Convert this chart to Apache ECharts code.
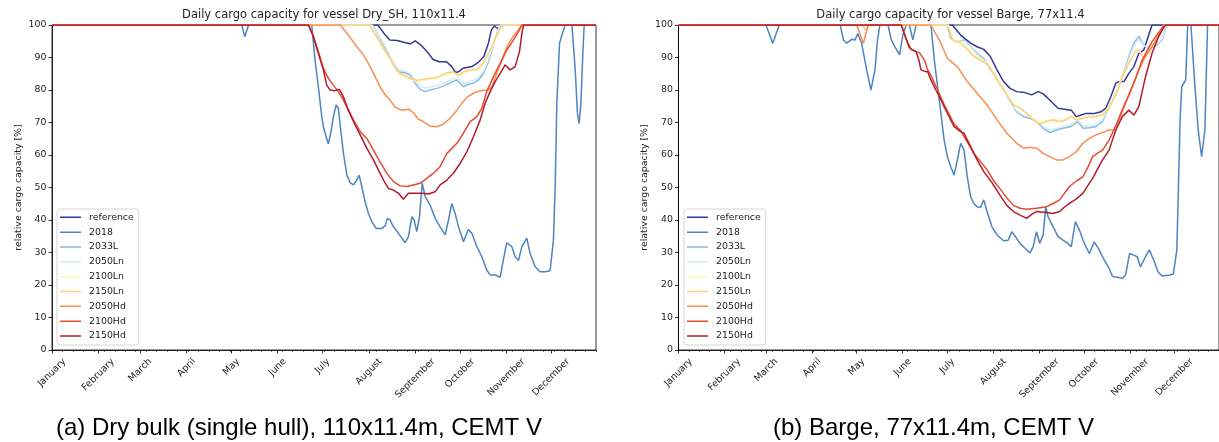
<!DOCTYPE html>
<html><head><meta charset="utf-8">
<script src="https://cdn.jsdelivr.net/npm/echarts@6/dist/echarts.min.js"></script>
<style>html,body{margin:0;padding:0;background:#fff}#c{width:1219px;height:442px}</style>
</head><body><div id="c"></div>
<script>
// ---------------- data ----------------
const monthNames = ['January','February','March','April','May','June','July','August','September','October','November','December'];
const monthStartDays = [0,31,59,90,120,151,181,212,243,273,304,334];
const seriesNames = ['reference','2018','2033L','2050Ln','2100Ln','2150Ln','2050Hd','2100Hd','2150Hd'];
const panelTitles = ['Daily cargo capacity for vessel Dry_SH, 110x11.4','Daily cargo capacity for vessel Barge, 77x11.4'];
const captions = ['(a) Dry bulk (single hull), 110x11.4m, CEMT V','(b) Barge, 77x11.4m, CEMT V'];
const yAxisTitle = 'relative cargo capacity [%]';

// Panel A: Dry_SH  [dayOfYear, capacity %]
const A_reference = [[0,100],[218,100],[223,96.9],[226,95.4],[231,95.2],[236,94.6],[240,94.2],[243,95.1],[247,93.8],[251,91.8],[255,89.4],[259,88.7],[264,88.7],[267.5,87.2],[270,85.4],[272,85.6],[275,86.7],[281,87.2],[285,88.4],[289,90.3],[292,94.4],[294,98.5],[296,99.7],[298,99],[300,99],[302,100],[364,100]];
const A_2018 = [[0,100],[127,100],[129,96.4],[131.5,100],[173.8,100],[176,89.2],[178.2,81],[180.5,71.8],[181.6,68.7],[183.4,65.6],[184.9,63.4],[186.5,66.7],[188.3,71.8],[190.1,75.4],[191.6,74.4],[193.2,67.7],[195,60.5],[197.3,53.8],[199.5,51.5],[201.7,50.8],[204,52.3],[205.5,53.8],[207.3,50.3],[209.5,45.6],[211.7,42.1],[214,39.5],[216.9,37.4],[220.7,37.4],[222.9,38.2],[224.4,40.5],[226.2,40],[228.5,37.9],[231.8,35.9],[236.3,33],[238.5,34.9],[240.8,41],[242.3,40],[244.1,36.4],[245.9,41],[247.7,51.3],[249.7,47.2],[253,44.6],[256.4,40.5],[259.7,37.9],[263.1,35.4],[265.3,40],[267.5,45.1],[269.7,42.1],[272,37.9],[275.3,33.3],[278.6,37.1],[280.9,35.9],[284.3,31.8],[287.6,28.7],[290.9,24.6],[293.2,23.1],[296.5,23.1],[299.9,22.4],[302,27.7],[304.3,33],[307.7,31.8],[309.9,28.7],[312.1,27.5],[314.4,31.8],[317.7,34.4],[319.9,29.7],[323.3,25.6],[326.6,24.1],[330,24.1],[333.3,24.4],[335.5,33.8],[336.7,50.3],[337.8,75.9],[339.6,94.4],[341.2,96.9],[343.4,100],[347.9,100],[350.1,86.2],[351.6,72.8],[352.7,69.7],[353.9,75.9],[355.2,91.3],[356.1,100],[364,100]];
const A_2033L = [[0,100],[214.6,100],[219.5,95.9],[224,91.8],[228.5,87.7],[231.8,85.6],[236.3,85.3],[239.6,84.6],[243,82.1],[246.3,80.2],[249.7,79.5],[253,80],[257.5,80.5],[261.9,81.2],[266.4,82.2],[270.9,83.1],[273.1,82.1],[275.3,81],[278.6,81.8],[282,82.1],[285.4,83.1],[288.7,85.1],[292,88.7],[295.4,93.8],[297.6,97.4],[299.9,100],[364,100]];
const A_2050Ln = [[0,100],[214,100],[219,96.5],[224,92.5],[228.5,88.5],[232,86.3],[236,85.8],[240,85],[243,83],[246.5,81.2],[250,80.6],[253,81],[258,81.4],[262,82],[266.5,83],[271,83.8],[273,83],[275.5,82],[279,82.6],[282,83],[285.5,84],[289,86],[292,89.4],[295.5,94.3],[298,97.8],[300,100],[364,100]];
const A_2100Ln = [[0,100],[213,100],[217.5,96],[222,92.3],[226.5,89.2],[230,86.3],[233,84.8],[236.5,84],[240,83.3],[244,82.6],[248.5,83],[253,83.3],[257.5,83.6],[261,84.3],[264.5,85],[268.5,85.3],[272,84.3],[275.5,85.3],[280,85.9],[284.5,86.1],[288,87.5],[291,90],[294.5,93],[298,96.7],[301.5,100],[364,100]];
const A_2150Ln = [[0,100],[212.4,100],[217.3,96.4],[221.8,92.8],[226.2,89.7],[229.6,86.7],[232.9,85.1],[236.3,84.3],[239.6,83.6],[244.1,82.9],[248.5,83.3],[253,83.6],[257.5,83.9],[260.8,84.6],[264.2,85.3],[268.6,85.6],[272,84.6],[275.3,85.6],[279.8,86.2],[284.3,86.4],[287.6,87.7],[290.9,90.3],[294.3,93.3],[297.6,96.9],[301,100],[364,100]];
const A_2050Hd = [[0,100],[192.8,100],[198.3,96.9],[204,93.3],[208.4,90.8],[212.9,87.2],[216.2,84.1],[219.5,81],[222.9,78.5],[226.2,76.9],[229.6,74.7],[234.1,73.8],[238.5,74.1],[241.8,73],[245.2,71],[248.5,70.3],[253,68.9],[257.5,68.7],[261.9,69.5],[266.4,71.3],[270.9,73.8],[274.2,75.9],[277.6,77.7],[282,79],[286.5,79.8],[292,80],[294.3,81],[297.6,85.1],[301,89.2],[304.3,93.3],[307.7,95.9],[311,97.9],[314.4,100],[364,100]];
const A_2100Hd = [[0,100],[171.6,100],[174.9,96.6],[178.2,91.8],[181.6,86.7],[184.9,83.6],[188.3,81.5],[191.6,79.5],[195,76.9],[198.3,73.8],[201.7,70.8],[206.2,67.2],[210.6,65.1],[215.1,61.5],[219.5,57.9],[224,54.4],[228.5,51.8],[232.9,50.5],[237.4,50.3],[241.8,50.8],[246.3,51.3],[250.8,52.8],[255.2,54.4],[259.7,56.4],[264.2,60.5],[266.4,61.5],[270.9,63.6],[275.3,66.7],[279.8,70.3],[284.3,71.8],[287.6,74.4],[290.9,79.5],[295.4,84.1],[299.9,88.2],[304.3,92.3],[308.8,95.4],[312.1,97.9],[314.4,100],[364,100]];
const A_2150Hd = [[0,100],[171.6,100],[174.9,96.4],[178.2,91.3],[181.6,86.2],[183.8,81.5],[186.1,80],[189.4,79.8],[192.3,80.2],[195,77.9],[198.3,73.8],[201.7,70.3],[206.2,66.2],[210.6,62.1],[215.1,58.5],[218.4,55.4],[221.8,52.3],[225.1,49.7],[228.5,49.2],[231.8,48.2],[235.1,46.4],[238.5,48.2],[243,48.2],[247.4,48.2],[251.9,48],[256.4,48.7],[259.7,50.8],[264.2,52.3],[268.6,54.4],[273.1,57.4],[277.6,61],[282,65.6],[286.5,70.8],[289.8,75.9],[293.2,79.5],[296.5,82.6],[299.9,85.1],[303.2,87.7],[306.6,86.2],[309.9,87.2],[312.8,91.8],[314.4,97.4],[315.5,100],[364,100]];

// Panel B: Barge
const B_reference = [[0,100],[184.4,100],[190,96.9],[196.7,94.4],[201.1,93.3],[205.6,92.5],[210,90.3],[214.5,86.2],[218.9,82.6],[223.3,80.5],[227.8,79.5],[233.3,79.2],[237.8,78.5],[242.3,79.5],[245.6,78.8],[250,76.9],[255.6,74.4],[260,74.1],[264.5,73.8],[267.8,71.8],[271.1,72.3],[274.5,72.8],[280,72.8],[284.5,73.3],[287.8,74.4],[291.1,77.9],[294.5,82.1],[296.7,82.6],[300,82.6],[303.3,85.1],[306.7,87.2],[310,91.3],[313.3,92.3],[315.6,95.4],[318.9,100],[364,100]];
const B_2018 = [[0,100],[58.9,100],[63.5,94.4],[67.8,100],[108.9,100],[111.1,95.4],[113.3,94.4],[116.7,95.6],[118.9,95.4],[120.7,97.4],[123.3,94.4],[126.7,86.2],[129.6,80],[132.3,86.2],[134,95.4],[135.6,100],[141.1,100],[143.3,95.4],[145.1,93.8],[146.4,94.4],[148.9,90.8],[151.1,96.9],[153.3,100],[155.5,100],[157.8,95.4],[160,100],[170,100],[172.3,89.2],[174.5,81],[176.7,72.8],[178.9,64.6],[181.1,59.5],[183.3,56.4],[185.6,53.8],[187.8,58.5],[190,63.6],[192.3,61.5],[194.5,53.3],[196.7,47.2],[198.9,45.1],[201.1,44.1],[203.3,43.8],[205.6,46.2],[207.8,42.6],[211.1,37.9],[214.5,35.4],[218.9,33.6],[222,33.8],[224.5,36.4],[226.7,35],[230,32.8],[233.3,31.3],[236.7,29.9],[238.9,31.8],[241.1,36.4],[243.3,32.8],[245.6,35.5],[247.3,44.1],[248.9,41],[252.3,37.9],[255.6,34.9],[258.9,33.8],[262.2,32.8],[264.5,31.8],[267.3,39.5],[270,36.9],[273.3,32.8],[276.7,29.7],[280,33.3],[283.3,30.8],[286.7,27.7],[290,25.1],[292.3,22.6],[295.6,22.4],[298.9,22.1],[301.1,23.1],[303.8,29.7],[306.7,29.2],[308.9,28.7],[311.1,25.6],[314.5,28.7],[317.1,30.8],[320,27.7],[322.9,24.1],[325.6,22.8],[331.1,23.1],[333.3,23.4],[335.6,30.8],[336.7,50.3],[337.8,70.8],[338.9,81],[341.6,83.1],[342.9,100],[345.1,100],[347.8,81],[350,67.7],[352.3,59.5],[354.5,67.7],[356.3,100],[364,100]];
const B_2033L = [[0,100],[181.1,100],[183.3,95.9],[187.8,94.9],[192.3,95.4],[196.7,93.3],[201.1,91.3],[205.6,89.7],[210,86.2],[214.5,83.6],[218.9,80.5],[223.3,76.4],[227.8,73.3],[232.3,71.8],[236.7,71.3],[241.1,70.3],[245.6,68.2],[250,66.9],[254.5,67.7],[258.9,68.2],[264.5,68.8],[268.9,70.3],[272.3,68.2],[276.7,68.4],[281.1,68.7],[285.6,70.3],[290,74.9],[294.5,79],[298.9,84.1],[303.3,90.3],[306.7,94.4],[310,96.6],[313.3,93.8],[316.7,92.8],[320,93.2],[322.5,94],[325.6,95.4],[327.8,98.5],[328.9,100],[364,100]];
const B_2050Ln = [[0,100],[182,100],[184,96],[188,95],[192.5,95],[197,93],[201,91],[206,89],[210.5,85.8],[215,83],[219,80],[223.5,76.2],[228,73.5],[232.5,72.2],[237,71.6],[241,70.8],[245.5,68.8],[250,67.6],[254.5,68.2],[259,68.8],[264.5,69.4],[269,70.8],[272.5,69],[277,69],[281,69.3],[285.5,70.8],[290,75],[294.5,79],[299,84],[303.5,89.8],[307,93.8],[310,95.6],[313.5,93.6],[317,93],[320,93.5],[323,94.5],[326,96],[328.5,100],[364,100]];
const B_2100Ln = [[0,100],[181.5,100],[184.5,95.6],[190,94.8],[194.5,93],[199,90.8],[203.5,89.6],[208,88.2],[212.5,85.4],[217,81.8],[221,78.8],[225.5,75.8],[230,74.6],[234.5,73],[239,71.2],[243.5,70],[248,70.6],[252,71],[257,70.6],[261,71],[264.5,72],[268,71.2],[272,71.5],[277,72],[281,72],[285.5,72.6],[290,74.8],[294.5,79],[299,84.5],[303.5,88.6],[308,92],[310,92.4],[313,90.2],[316,91.5],[319,93.5],[323.5,96.6],[327,100],[364,100]];
const B_2150Ln = [[0,100],[124,100],[126,98.5],[128,100],[181,100],[184.4,95.4],[190,94.4],[194.5,92.5],[198.9,90.3],[203.3,89.2],[207.8,88],[212.3,85.1],[216.7,81.5],[221.1,78.5],[225.6,75.4],[230,74.4],[234.5,72.8],[238.9,70.8],[243.3,69.5],[247.8,70.3],[252.2,70.8],[256.7,70.3],[261.1,70.8],[264.5,71.8],[267.8,70.8],[272.2,71.3],[276.7,71.8],[281.1,71.8],[285.6,72.3],[290,74.4],[294.5,78.5],[298.9,84.1],[303.3,88.2],[308,92],[310,92.3],[313,89.8],[316,91],[318.9,93.3],[323.3,96.4],[326.7,100],[364,100]];
const B_2050Hd = [[0,100],[120,100],[124.5,94.4],[127.8,100],[170,100],[176.7,94.4],[181.1,89.7],[187.8,87.2],[194.5,82.6],[201.1,79],[207.8,75.4],[214.5,70.8],[221.1,66.7],[227.8,63.6],[232.3,62.1],[236.7,62.4],[241.1,62.1],[245.6,60.5],[250,59.5],[254.5,58.5],[258.9,58.5],[263.3,59.5],[267.8,61],[272.3,63.6],[276.7,65.1],[281.1,66.2],[285.6,66.9],[290,67.7],[293.3,67.7],[296.7,70.8],[301.1,75.9],[305.6,81],[310,86.2],[314.5,90.3],[318.9,93.3],[323.3,96.9],[326.7,100],[364,100]];
const B_2100Hd = [[0,100],[150,100],[154.5,94.4],[156.7,92.5],[160,91.8],[162.2,91.5],[165.6,89.2],[167.8,86.2],[170,84.5],[174.5,80],[178.9,75.5],[185.6,69.5],[190,67.5],[194.5,64],[198.9,60.5],[203.3,58],[207.8,55.5],[212.3,52],[216.7,49.5],[221.1,46.8],[225.6,44.5],[230,43.6],[234.5,43.3],[241.1,43.6],[247.8,44.1],[252,45],[256.7,46.2],[263.3,50.3],[268,52],[272.3,53.3],[276,56.5],[278.9,59.5],[282,60.5],[285.6,61.5],[290,64.6],[294.5,69],[298.9,74],[303.3,78.5],[307.8,83.5],[312.3,89.2],[318.9,94.9],[325.6,99],[327.8,100],[364,100]];
const B_2150Hd = [[0,100],[150,100],[153,96],[155.5,93],[157.8,92.3],[160,91.8],[162,89],[163.3,86.2],[165.6,85.8],[167.8,85.6],[170,83.1],[173.3,80],[176.7,77],[178.9,74.9],[185.6,68.7],[190,67.2],[192.3,66.7],[196.7,62.6],[201.1,58.5],[205.6,54.9],[211.1,51.5],[216.7,47.5],[221.1,44.5],[225.6,42.6],[230,41.5],[234.5,40.5],[238,41.8],[241.1,42.6],[247.8,42.3],[252,42],[256.7,42.6],[260,44],[263.3,45.1],[268,46.5],[272.3,48.2],[276,50.8],[278.9,52.8],[282,55.5],[285.6,58.5],[290,61.5],[294.5,67.7],[298.9,71.8],[303.3,73.8],[306.7,72.3],[310,74.9],[314.5,84.1],[318.9,91.3],[323.3,96.4],[327.8,100],[364,100]];

// ---------------- styling ----------------
const colors = ['#343896','#4d84c2','#85bcdc','#d3ebf4','#fbf8b6','#fdcf82','#fb8c4e','#e34b33','#b51a2c'];
const FONT = 'DejaVu Sans';
const TXT = '#222';
const TICK_FS = 9.4;
const LEGEND_ICON = 'path://M0,0L0.01,0L0,0.01ZM0,4.25L21,4.25L21,5.75L0,5.75ZM21,10L20.99,10L21,9.99Z';

const panels = [
  [A_reference,A_2018,A_2033L,A_2050Ln,A_2100Ln,A_2150Ln,A_2050Hd,A_2100Hd,A_2150Hd],
  [B_reference,B_2018,B_2033L,B_2050Ln,B_2100Ln,B_2150Ln,B_2050Hd,B_2100Hd,B_2150Hd]
];
const grids = [
  {left:52, top:25, width:544, height:325},
  {left:678.5, top:25, width:546, height:325}
];

const ctx = document.createElement('canvas').getContext('2d');
ctx.font = TICK_FS + 'px "' + FONT + '"';
const rich = {};
monthNames.forEach((m,i)=>{
  const w = ctx.measureText(m).width;
  const p = 0.5*w;
  rich['m'+i] = {fontSize:TICK_FS, fontFamily:FONT, color:TXT, padding:[p,p,0,0]};
});

const option = {
  animation:false,
  backgroundColor:'#fff',
  title:[],
  legend:[],
  grid:[],
  xAxis:[],
  yAxis:[],
  series:[]
};

grids.forEach((g,p)=>{
  option.grid.push(Object.assign({show:true, borderColor:'#000', borderWidth:0.8, backgroundColor:'transparent'}, g));
  option.title.push({text:panelTitles[p], left:g.left + 272, top:9, textAlign:'center', padding:0,
    textStyle:{fontSize:11.5, fontWeight:'normal', fontFamily:FONT, color:TXT}});
  option.title.push({text:captions[p], left:(p===0?56:773), top:416, padding:0,
    textStyle:{fontSize:24, fontWeight:'normal', fontFamily:'Liberation Sans', color:'#000'}});
  option.xAxis.push({
    type:'value', gridIndex:p, min:0, max:364, position:'bottom',
    axisLine:{show:true, lineStyle:{color:'#000', width:0.8}},
    axisTick:{show:true, customValues:monthStartDays, length:3.5, lineStyle:{color:'#000', width:0.8}},
    axisLabel:{show:true, customValues:monthStartDays, rotate:45, align:'center', verticalAlign:'middle', margin:10,
      fontSize:TICK_FS, fontFamily:FONT, color:TXT,
      formatter:(v)=>{ const i = monthStartDays.indexOf(Math.round(v)); return i<0 ? '' : '{m'+i+'|'+monthNames[i]+'}'; },
      rich:rich},
    splitLine:{show:false}
  });
  option.xAxis.push({
    type:'value', gridIndex:p, min:0, max:364, interval:7, position:'bottom',
    axisLine:{show:false},
    axisTick:{show:true, length:2, lineStyle:{color:'#000', width:0.6}},
    axisLabel:{show:false},
    splitLine:{show:false}
  });
  option.yAxis.push({
    type:'value', gridIndex:p, min:0, max:100, interval:10,
    name:yAxisTitle, nameLocation:'middle', nameGap:29,
    nameTextStyle:{fontSize:TICK_FS, fontFamily:FONT, color:TXT},
    axisLine:{show:true, lineStyle:{color:'#000', width:0.8}},
    axisTick:{show:true, length:3.5, lineStyle:{color:'#000', width:0.8}},
    axisLabel:{fontSize:TICK_FS, fontFamily:FONT, color:TXT, margin:5.5},
    splitLine:{show:false}
  });
  option.legend.push({
    orient:'vertical', left:(p===0?57:684), top:209,
    data:seriesNames, icon:LEGEND_ICON, itemWidth:21, itemHeight:10, itemGap:4.84,
    backgroundColor:'rgba(255,255,255,0.8)', borderColor:'#d6d6d6', borderWidth:1, borderRadius:3,
    padding:[3.3,5,4,3], selectedMode:false,
    textStyle:{fontSize:TICK_FS, fontFamily:FONT, color:TXT, lineHeight:10, padding:[0,0,0,3]}
  });
  panels[p].forEach((d,i)=>{
    option.series.push({
      type:'line', name:seriesNames[i], xAxisIndex:p*2, yAxisIndex:p, data:d,
      symbol:'none', showSymbol:false, silent:true,
      lineStyle:{width:1.5, color:colors[i]}, itemStyle:{color:colors[i]},
      emphasis:{disabled:true}
    });
  });
});

const chart = echarts.init(document.getElementById('c'), null, {renderer:'canvas'});
chart.setOption(option);
</script>
</body></html>
